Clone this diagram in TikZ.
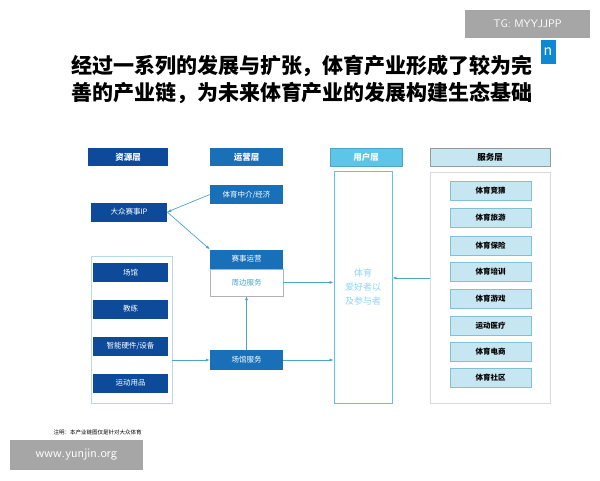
\documentclass[tikz,border=0pt]{standalone}
\usepackage{fontspec}
\setmainfont{Noto Sans CJK SC}
\usetikzlibrary{positioning, arrows.meta}
\definecolor{darkblue}{HTML}{0D4A9A}
\definecolor{midblue}{HTML}{1A70B8}
\definecolor{cyanhead}{HTML}{5CC6E8}
\definecolor{paleblue}{HTML}{C6E6F2}
\definecolor{linkcol}{HTML}{4AA6C4}
\definecolor{framecol}{HTML}{B8D8E4}
\tikzset{
  head/.style={minimum width=75pt, minimum height=18pt, inner sep=0pt, font=\fontsize{8.5}{9}\selectfont\bfseries},
  resbox/.style={fill=darkblue, text=white, minimum width=75pt, minimum height=19pt, inner sep=0pt, font=\fontsize{7.5}{8}\selectfont},
  opbox/.style={fill=midblue, text=white, minimum width=73pt, minimum height=19pt, inner sep=0pt, font=\fontsize{7.5}{8}\selectfont},
  svcbox/.style={fill=paleblue, draw=linkcol!70, minimum width=81pt, minimum height=19pt, inner sep=0pt, font=\fontsize{7.5}{8}\selectfont\bfseries},
  link/.style={draw=linkcol, line width=0.7pt, -{Latex[length=4pt,width=3pt]}},
  mark box/.style={fill=black!35, text=white, inner sep=0pt}
}
\begin{document}
\begin{tikzpicture}[x=1pt, y=-1pt]
  \useasboundingbox (0,0) rectangle (600,480);
  \fill[white] (0,0) rectangle (600,480);

  % title
  \node[font=\fontsize{21}{27}\selectfont\bfseries, align=center] (title) at (302,79)
    {经过一系列的发展与扩张，体育产业形成了较为完\\善的产业链，为未来体育产业的发展构建生态基础};
  \node[fill=cyan!70!blue, text=white, minimum width=15pt, minimum height=24pt, inner sep=0pt,
        font=\fontsize{14}{14}\selectfont] (tag) at (548,52) {n};

  % headers
  \node[head, fill=darkblue, text=white, minimum width=80pt] (res head) at (128,157) {资源层};
  \node[head, fill=midblue, text=white, minimum width=73pt]  (op head)  at (246.5,157) {运营层};
  \node[head, fill=cyanhead, text=white, draw=linkcol, minimum width=72pt] (user head) at (366,157) {用户层};
  \node[head, fill=paleblue, draw=black!40, minimum width=120pt] (svc head) at (490,157) {服务层};

  % resource layer
  \node[resbox, minimum width=76pt] (ip) at (129,212) {大众赛事IP};
  \draw[framecol] (91,256) rectangle (172,403);
  \coordinate (res frame) at (172,360);
  \node[resbox] (venue) at (130.5,272.5) {场馆};
  \node[resbox] (coach) at (130.5,309)   {教练};
  \node[resbox] (device) at (130.5,346.5) {智能硬件/设备};
  \node[resbox] (goods) at (130.5,383)   {运动用品};

  % operation layer
  \node[opbox] (agent) at (246.5,194.5) {体育中介/经济};
  \node[opbox] (event) at (246.5,259) {赛事运营};
  \node[draw=black!30, minimum width=73pt, minimum height=27pt, inner sep=0pt, text=linkcol,
        font=\fontsize{7.5}{8}\selectfont, below=0pt of event] (around) {周边服务};
  \node[opbox, minimum height=20pt] (venue svc) at (246.5,360) {场馆服务};

  % user layer
  \node[draw=cyanhead, line width=0.8pt, minimum width=58pt, minimum height=232pt, inner sep=0pt,
        text=cyanhead!70, align=center, font=\fontsize{9}{14}\selectfont] (user) at (363,287)
    {体育\\爱好者以\\及参与者};

  % service layer
  \draw[black!15] (430,172) rectangle (550,403);
  \coordinate (svc frame) at (430,278);
  \node[svcbox] (s1) at (490.5,191)   {体育竞猜};
  \node[svcbox] (s2) at (490.5,218)   {体育旅游};
  \node[svcbox] (s3) at (490.5,245.5) {体育保险};
  \node[svcbox] (s4) at (490.5,272)   {体育培训};
  \node[svcbox] (s5) at (490.5,298.5) {体育游戏};
  \node[svcbox] (s6) at (490.5,325.5) {运动医疗};
  \node[svcbox] (s7) at (490.5,351.5) {体育电商};
  \node[svcbox] (s8) at (490.5,378)   {体育社区};

  % connectors
  \draw[link] (agent.west) -- (ip.east);
  \draw[link] (ip.east) -- (event.north west);
  \draw[link] (around.east) -- (around.east -| user.west);
  \draw[link] (venue svc.east) -- (venue svc.east -| user.west);
  \draw[link] (res frame) -- (venue svc.west);
  \draw[link] (venue svc.north) -- (around.south);
  \draw[link] (svc frame) -- (svc frame -| user.east);

  % note and marks
  \node[font=\fontsize{5.5}{6}\selectfont, anchor=west] (note) at (50,432) {注明：本产业链图仅是针对大众体育};
  \node[mark box, minimum width=133pt, minimum height=30pt, font=\fontsize{13}{13}\selectfont\sffamily] (site) at (76.5,455) {www.yunjin.org};
  \node[mark box, minimum width=125pt, minimum height=28pt, font=\fontsize{11}{11}\selectfont\sffamily] (tg) at (527.5,24) {TG: MYYJJPP};
\end{tikzpicture}
\end{document}
